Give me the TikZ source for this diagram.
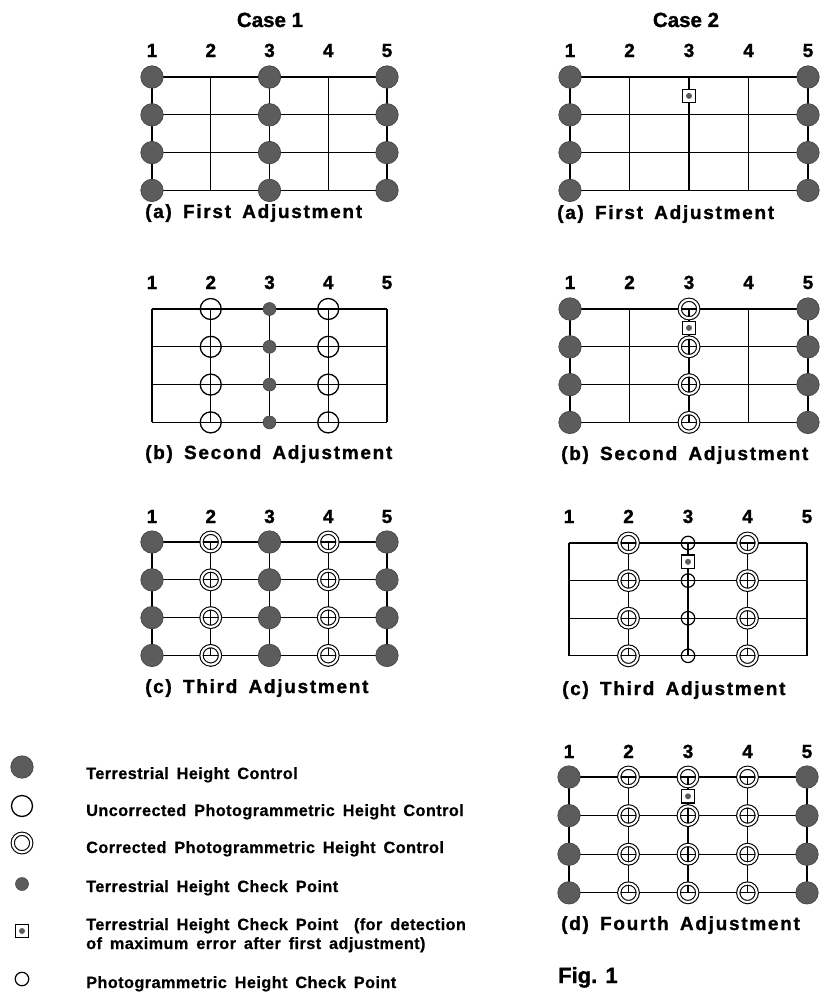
\documentclass[tikz,border=0pt]{standalone}
\usepackage{fontspec}
\usetikzlibrary{calc}
\setmainfont{Liberation Sans}
\newfontfamily\capfont{Liberation Sans}[LetterSpace=9,WordSpace=1.6,FakeBold=1.2]
\newfontfamily\legfont{Liberation Sans}[LetterSpace=2.5,WordSpace=1.6,FakeBold=0.6]
\newfontfamily\numfont{Liberation Sans}[FakeBold=1.2]
\definecolor{dotgray}{gray}{0.36}
\definecolor{dotedge}{gray}{0.25}
\newcommand\mkgrid[6]{% #1 id, #2 x1, #3 dx, #4 y1, #5 dy, #6 label baseline
  \foreach \c in {1,...,5}{\foreach \r in {1,...,4}{%
    \coordinate (#1-\c-\r) at ({#2+(\c-1)*#3},{#4+(\r-1)*#5});}}
  \foreach \r in {1,...,4}{\draw[gridline] (#1-1-\r) -- (#1-5-\r);}
  \foreach \c in {1,...,5}{\draw[gridline] (#1-\c-1) -- (#1-\c-4);}
  \foreach \c in {1,...,5}{\node[numlab] (#1-n\c) at ({#2+(\c-1)*#3},#6) {\c};}
}
\newcommand\putsym[3]{% #1 style, #2 id, #3 cols
  \foreach \c in {#3}{\foreach \r in {1,...,4}{%
    \node[#1] (#2-s-\c-\r) at (#2-\c-\r) {};}}
}
\begin{document}
\begin{tikzpicture}[x=1pt,y=-1pt,
  gridline/.style={line width=1.25pt,black},
  numlab/.style={anchor=base,inner sep=0pt,font=\numfont\bfseries\fontsize{19}{21}\selectfont},
  caplab/.style={anchor=base west,inner sep=0pt,font=\capfont\bfseries\fontsize{19}{21}\selectfont},
  titlelab/.style={anchor=base,inner sep=0pt,font=\numfont\bfseries\fontsize{20.5}{22}\selectfont},
  leglab/.style={anchor=base west,inner sep=0pt,font=\legfont\bfseries\fontsize{16.3}{18}\selectfont},
  bigdot/.style={circle,fill=dotgray,draw=dotedge,line width=0.6pt,minimum size=22.5pt,inner sep=0pt},
  opencirc/.style={circle,draw=black,line width=1.3pt,minimum size=21pt,inner sep=0pt},
  dblcirc/.style={circle,draw=black,double=white,line width=1.1pt,double distance=2.1pt,minimum size=18.5pt,inner sep=0pt},
  smalldot/.style={circle,fill=dotgray,draw=dotedge,line width=0.5pt,minimum size=13pt,inner sep=0pt},
  smallopen/.style={circle,draw=black,line width=1.2pt,minimum size=13.5pt,inner sep=0pt},
  checkbox/.style={rectangle,draw=black,fill=white,line width=1.2pt,minimum size=13.5pt,inner sep=0pt,
    path picture={\fill[dotgray] (path picture bounding box.center) circle (3pt);}}
]
\useasboundingbox (0,0) rectangle (822,993);

% ---------- Case 1 ----------
\node[titlelab] (t1) at (270,27) {Case 1};
\mkgrid{Pa}{152}{58.75}{77}{37.8}{57}
\putsym{bigdot}{Pa}{1,3,5}
\node[caplab] (ca) at (145,218) {(a) First Adjustment};

\mkgrid{Pb}{152}{58.75}{309}{37.8}{289}
\putsym{opencirc}{Pb}{2,4}
\putsym{smalldot}{Pb}{3}
\node[caplab] (cb) at (145,459) {(b) Second Adjustment};

\mkgrid{Pc}{152}{58.75}{542}{37.8}{523}
\putsym{bigdot}{Pc}{1,3,5}
\putsym{dblcirc}{Pc}{2,4}
\node[caplab] (cc) at (145,693) {(c) Third Adjustment};

% ---------- Case 2 ----------
\node[titlelab] (t2) at (686,27) {Case 2};
\mkgrid{Qa}{570}{59.5}{77}{37.8}{57}
\putsym{bigdot}{Qa}{1,5}
\node[checkbox] (Qa-box) at ($(Qa-3-1)!0.5!(Qa-3-2)$) {};
\node[caplab] (da) at (557,219) {(a) First Adjustment};

\mkgrid{Qb}{570}{59.5}{309}{37.8}{289}
\putsym{bigdot}{Qb}{1,5}
\putsym{dblcirc}{Qb}{3}
\node[checkbox] (Qb-box) at ($(Qb-3-1)!0.5!(Qb-3-2)$) {};
\node[caplab] (db) at (561,460) {(b) Second Adjustment};

\mkgrid{Qc}{569}{59.5}{543}{37.6}{523}
\putsym{dblcirc}{Qc}{2,4}
\putsym{smallopen}{Qc}{3}
\node[checkbox] (Qc-box) at ($(Qc-3-1)!0.5!(Qc-3-2)$) {};
\node[caplab] (dc) at (562,695) {(c) Third Adjustment};

\mkgrid{Qd}{569}{59.5}{777}{38.6}{758}
\putsym{bigdot}{Qd}{1,5}
\putsym{dblcirc}{Qd}{2,3,4}
\node[checkbox] (Qd-box) at ($(Qd-3-1)!0.5!(Qd-3-2)$) {};
\node[caplab] (dd) at (561,930) {(d) Fourth Adjustment};

\node[anchor=base west,inner sep=0pt,font=\numfont\bfseries\fontsize{22}{24}\selectfont] (fig) at (558,983) {Fig. 1};

% ---------- Legend ----------
\node[bigdot] (L1) at (22,767) {};
\node[leglab] (L1t) at (86,779) {Terrestrial Height Control};
\node[opencirc] (L2) at (22,806) {};
\node[leglab] (L2t) at (86,816) {Uncorrected Photogrammetric Height Control};
\node[dblcirc] (L3) at (22,843) {};
\node[leglab] (L3t) at (86,853) {Corrected Photogrammetric Height Control};
\node[smalldot] (L4) at (22,884) {};
\node[leglab] (L4t) at (86,892) {Terrestrial Height Check Point};
\node[checkbox] (L5) at (22,931) {};
\node[leglab] (L5t) at (86,930) {Terrestrial Height Check Point \ (for detection};
\node[leglab] (L5u) at (86,949) {of maximum error after first adjustment)};
\node[smallopen] (L6) at (22,979) {};
\node[leglab] (L6t) at (86,988) {Photogrammetric Height Check Point};
\end{tikzpicture}
\end{document}
